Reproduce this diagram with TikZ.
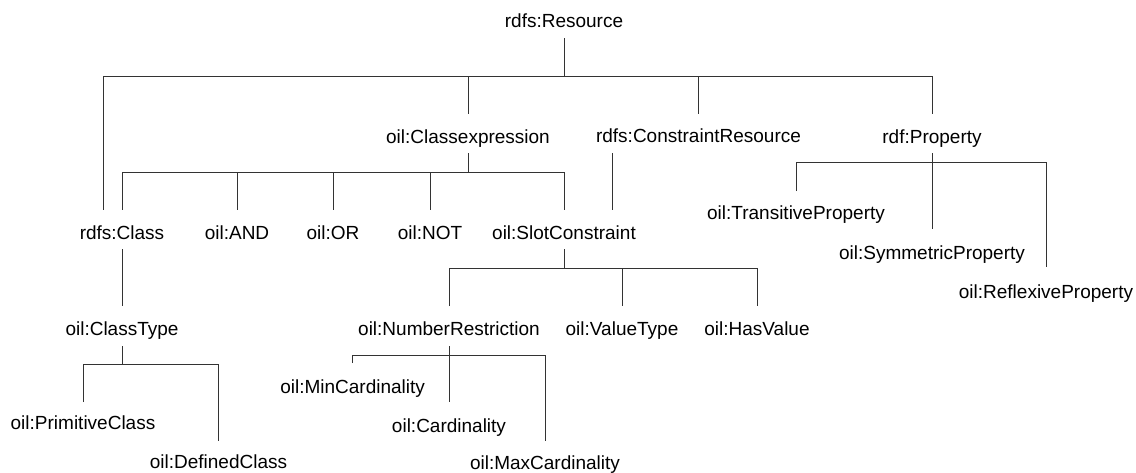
\documentclass[tikz,border=0pt]{standalone}
\usepackage{fontspec}
\setmainfont{Liberation Sans}
\begin{document}
\begin{tikzpicture}[x=1pt,y=-1pt,
  lbl/.style={inner sep=0pt, anchor=base, font=\fontsize{19}{22}\selectfont},
  conn/.style={draw=black!80, line width=0.8pt}]
\useasboundingbox (0,0) rectangle (1136,472);
% nodes
\node[lbl] (Res)  at (564,27)  {rdfs:Resource};
\node[lbl] (CE)   at (468,143) {oil:Classexpression};
\node[lbl] (CR)   at (698.5,142) {rdfs:ConstraintResource};
\node[lbl] (Prop) at (932,143) {rdf:Property};
\node[lbl] (Cls)  at (122,239) {rdfs:Class};
\node[lbl] (AND)  at (237,239) {oil:AND};
\node[lbl] (OR)   at (333,239) {oil:OR};
\node[lbl] (NOT)  at (430,239) {oil:NOT};
\node[lbl] (SC)   at (564,239) {oil:SlotConstraint};
\node[lbl] (TP)   at (796,219) {oil:TransitiveProperty};
\node[lbl] (SP)   at (932,259) {oil:SymmetricProperty};
\node[lbl] (RP)   at (1046,298) {oil:ReflexiveProperty};
\node[lbl] (CT)   at (122,335) {oil:ClassType};
\node[lbl] (NR)   at (449,335) {oil:NumberRestriction};
\node[lbl] (VT)   at (622,335) {oil:ValueType};
\node[lbl] (HV)   at (757,335) {oil:HasValue};
\node[lbl] (PC)   at (83,429)  {oil:PrimitiveClass};
\node[lbl] (DC)   at (218.5,468) {oil:DefinedClass};
\node[lbl] (MinC) at (352.6,393) {oil:MinCardinality};
\node[lbl] (Card) at (449,432) {oil:Cardinality};
\node[lbl] (MaxC) at (545,469) {oil:MaxCardinality};
% free connector ends
\coordinate (ClsL) at (103,210);
\coordinate (CRd)  at (612,153);
% rdfs:Resource
\draw[conn] (Res |- 0,38) -- (Res |- 0,76) -| (ClsL);
\draw[conn] (Res |- 0,76) -| (Prop |- 0,114);
\draw[conn] (CE |- 0,76) -- (CE |- 0,114);
\draw[conn] (CR |- 0,76) -- (CR |- 0,114);
% oil:Classexpression
\draw[conn] (CE |- 0,153) -- (CE |- 0,172) -| (Cls |- 0,210);
\draw[conn] (CE |- 0,172) -| (SC |- 0,210);
\draw[conn] (AND |- 0,172) -- (AND |- 0,210);
\draw[conn] (OR |- 0,172) -- (OR |- 0,210);
\draw[conn] (NOT |- 0,172) -- (NOT |- 0,210);
% rdfs:ConstraintResource
\draw[conn] (CRd) -- (CRd |- 0,210);
% rdf:Property
\draw[conn] (Prop |- 0,153) -- (SP |- 0,229);
\draw[conn] (TP |- 0,191) |- (RP |- 0,162) -- (RP |- 0,267);
% rdfs:Class
\draw[conn] (Cls |- 0,249) -- (CT |- 0,306);
% oil:ClassType
\draw[conn] (CT |- 0,346) -- (CT |- 0,364);
\draw[conn] (PC |- 0,402) |- (DC |- 0,364) -- (DC |- 0,441);
% oil:SlotConstraint
\draw[conn] (SC |- 0,249) -- (SC |- 0,268);
\draw[conn] (NR |- 0,306) |- (HV |- 0,268) -- (HV |- 0,306);
\draw[conn] (VT |- 0,268) -- (VT |- 0,306);
% oil:NumberRestriction
\draw[conn] (NR |- 0,346) -- (Card |- 0,402);
\draw[conn] (MinC |- 0,363) |- (MaxC |- 0,355) -- (MaxC |- 0,441);
\end{tikzpicture}
\end{document}
